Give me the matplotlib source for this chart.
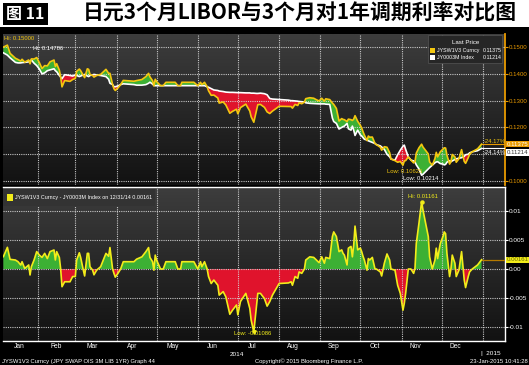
import matplotlib
matplotlib.use("Agg")
import matplotlib.pyplot as plt
import numpy as np
from matplotlib.colors import LinearSegmentedColormap
from matplotlib.patches import Rectangle

plt.rcParams["font.family"] = ["Liberation Sans Narrow", "Liberation Sans", "DejaVu Sans"]

# trading days, counted from 2014-01-01
DAYS = [
    5, 8, 10, 14, 16, 18, 19, 21, 24, 25, 26, 28,
    30, 32, 34, 36, 38, 40, 43, 44, 45, 47, 48, 49,
    51, 55, 57, 59, 60, 62, 63, 65, 66, 68, 69, 70,
    72, 73, 75, 78, 80, 82, 84, 85, 87, 88, 89, 91,
    93, 95, 103, 105, 109, 112, 114, 115, 117, 118, 119, 120,
    123, 125, 127, 134, 136, 138, 139, 148, 151, 153, 154, 156,
    158, 159, 161, 163, 166, 167, 170, 172, 175, 177, 180, 181,
    183, 187, 190, 191, 193, 195, 196, 198, 201, 203, 205, 207,
    210, 212, 219, 221, 222, 224, 226, 227, 229, 231, 232, 235,
    238, 240, 242, 244, 246, 247, 250, 252, 253, 255, 257, 259,
    260, 261, 263, 264, 266, 267, 268, 269, 271, 273, 274, 275,
    276, 278, 279, 280, 282, 284, 285, 288, 289, 291, 293, 295,
    296, 299, 301, 303, 305, 306, 307, 309, 311, 313, 314, 315,
    317, 319, 320, 322, 324, 325, 327, 329, 330, 331, 333, 335,
    336, 337, 338, 340, 341, 342, 344, 345, 347, 349, 351, 352,
    354, 355, 357, 361, 362, 364,
]

# JYSW1V3 Curncy - JY0003M Index
SPREAD = [
    0.00214, 0.00374, 0.00167, 0.00155, 0.00126, 0.00069, 0.00126, 0.0001, 0.0007, -0.00103, 0.0004, 0.00155,
    0.0030, 0.0024, 0.0020, 0.0027, 0.0018, 0.0030, 0.00328, 0.00155, 0.0030, 0.0020, 0.0, -0.00305,
    -0.0022, -0.0022, -0.0013, -0.0013, 0.00155, 0.0028, 0.0020, -0.0002, -0.0012, 0.0027, 0.0027, 0.0004,
    -0.0002, -0.0010, -0.0002, 0.0004, 0.00155, 0.0027, 0.0022, 0.0037, 0.0, -0.00075, -0.0014, -0.00075,
    0.0, 0.00126, 0.00126, 0.0017, 0.0021, 0.0030, 0.0037, 0.0020, 0.00126, -0.0002, 0.0024, 0.00155,
    0.0, 0.0, 0.00126, 0.00126, 0.0, 0.0, 0.00126, 0.00126, 0.0, 0.00126, 0.0004, 0.00126,
    0.0, -0.0013, -0.0025, -0.0019, -0.0028, -0.0045, -0.0039, -0.0048, -0.0078, -0.0071, -0.0062, -0.0079,
    -0.0056, -0.0042, -0.0068, -0.0088, -0.01086, -0.0065, -0.0042, -0.0042, -0.0051, -0.0064, -0.0056, -0.0045,
    -0.0033, -0.0025, -0.0024, -0.0022, -0.0028, -0.0013, -0.0016, -0.0005, -0.00075, 0.0, 0.00155, 0.0021,
    0.0020, 0.00155, 0.0011, 0.0021, 0.0010, 0.0020, 0.0018, 0.0056, 0.0064, 0.0056, 0.0030, 0.0033,
    0.0027, 0.0024, 0.0007, 0.0036, 0.0039, 0.0021, 0.0041, 0.0074, 0.0033, 0.0036, 0.0030, 0.0022,
    0.00155, -0.0002, 0.0018, 0.00155, 0.0020, 0.0, 0.0, -0.0005, -0.0012, 0.0010, 0.0026, 0.00155,
    0.0, -0.0002, -0.0028, -0.0042, -0.0071, -0.0059, -0.0042, 0.0, 0.0, -0.00075, 0.0001, 0.0044,
    0.0079, 0.01161, 0.0102, 0.0079, 0.0056, 0.0021, 0.0, 0.00155, 0.0036, 0.0018, 0.0044, 0.0056,
    0.0064, 0.0061, 0.0027, -0.0013, 0.0, 0.0024, 0.0010, -0.0013, -0.0002, 0.0030, -0.0019, -0.0032,
    -0.0013, -0.0005, 0.0, 0.0007, 0.0010, 0.00161,
]

# JY0003M Index (3M yen LIBOR)
LIBOR_3M = [
    0.14786, 0.1470, 0.1460, 0.1443, 0.1441, 0.1441, 0.1442, 0.1443, 0.1445, 0.1448, 0.1452, 0.1440,
    0.1431, 0.1418, 0.1400, 0.1404, 0.1412, 0.1415, 0.1419, 0.1412, 0.1408, 0.1394, 0.1388, 0.1382,
    0.1397, 0.1394, 0.1392, 0.1396, 0.1394, 0.1390, 0.1392, 0.1396, 0.1398, 0.1392, 0.1390, 0.1394,
    0.1396, 0.1398, 0.1396, 0.1394, 0.1392, 0.1390, 0.1380, 0.1365, 0.1360, 0.1352, 0.1352, 0.1355,
    0.1360, 0.1363, 0.1360, 0.1358, 0.1358, 0.1360, 0.1365, 0.1369, 0.1362, 0.1357, 0.1356, 0.1356,
    0.1356, 0.1356, 0.1356, 0.1356, 0.1356, 0.1356, 0.1356, 0.1356, 0.1356, 0.1356, 0.1356, 0.1356,
    0.1352, 0.1350, 0.1345, 0.1340, 0.1338, 0.1336, 0.1334, 0.1332, 0.1331, 0.1331, 0.1330, 0.1330,
    0.1330, 0.1329, 0.1329, 0.1328, 0.1328, 0.1327, 0.1327, 0.1328, 0.1326, 0.1322, 0.1308, 0.1306,
    0.1305, 0.1304, 0.1302, 0.1300, 0.1300, 0.1299, 0.1298, 0.1297, 0.1296, 0.1295, 0.1292, 0.1290,
    0.1289, 0.1288, 0.1288, 0.1288, 0.1288, 0.1287, 0.1286, 0.1235, 0.1222, 0.1215, 0.1194, 0.1200,
    0.1203, 0.1205, 0.1215, 0.1195, 0.1190, 0.1205, 0.1190, 0.1170, 0.1190, 0.1172, 0.1168, 0.1162,
    0.1156, 0.1153, 0.1150, 0.1148, 0.1144, 0.1140, 0.1136, 0.1131, 0.1127, 0.1118, 0.1100, 0.1090,
    0.1082, 0.1078, 0.1098, 0.1115, 0.1130, 0.1134, 0.1118, 0.1090, 0.1078, 0.1075, 0.1071, 0.1060,
    0.1045, 0.10214, 0.1025, 0.1035, 0.1045, 0.1050, 0.1059, 0.1068, 0.1071, 0.1072, 0.1065, 0.1063,
    0.1060, 0.1062, 0.1070, 0.1076, 0.1072, 0.1075, 0.1080, 0.1083, 0.1085, 0.1087, 0.1092, 0.1098,
    0.1100, 0.1105, 0.1109, 0.1113, 0.1116, 0.11214,
]

MONTH_STARTS = [31, 59, 90, 120, 151, 181, 212, 243, 273, 304, 334, 365]
MONTH_LABEL_DAYS = [17, 45, 72, 102, 132, 162, 192, 222, 253, 284, 314, 344]
MONTH_LABELS = ["Jan", "Feb", "Mar", "Apr", "May", "Jun", "Jul", "Aug", "Sep", "Oct", "Nov", "Dec"]
TOP_TICKS = [0.15, 0.14, 0.13, 0.12, 0.11, 0.10]
TOP_TICK_LABELS = ["0.1500", "0.1400", "0.1300", "0.1200", "0.1100", "0.1000"]
BOTTOM_TICKS = [0.01, 0.005, 0.0, -0.005, -0.01]
BOTTOM_TICK_LABELS = ["0.01", "0.005", "0.00", "-0.005", "-0.01"]

GREEN = "#3cb034"
RED = "#e0132c"
SWAP_COLOR = "#f3c70f"
SPREAD_COLOR = "#f2ec1a"
ORANGE = "#e99a00"
GRID = "#d8d8d8"

W, H = 529, 365


def box(x0, y0, x1, y1):
    return [x0 / W, 1 - y1 / H, (x1 - x0) / W, (y1 - y0) / H]


def main() -> None:
    days = np.array(DAYS, dtype=float)
    libor = np.array(LIBOR_3M)
    spread = np.array(SPREAD)
    swap = libor + spread

    fig = plt.figure(figsize=(W / 100, H / 100), dpi=100, facecolor="white")
    fig.patches.append(Rectangle((0, 0), 1, 1 - 27 / H, transform=fig.transFigure,
                                 facecolor="black", edgecolor="none", zorder=-10))

    # title
    fig.patches.append(Rectangle((3 / W, 1 - 25 / H), 45 / W, 22 / H, transform=fig.transFigure,
                                 facecolor="black", edgecolor="none"))
    fig.text(25 / W, 1 - 14 / H, "图 11", color="white", fontsize=11.5, fontweight="bold",
             ha="center", va="center", family=["Noto Sans CJK SC", "DejaVu Sans"])
    fig.text(83 / W, 1 - 13 / H, "日元3个月LIBOR与3个月对1年调期利率对比图", color="black",
             fontsize=15, fontweight="bold", ha="left", va="center",
             family=["Noto Sans CJK SC", "DejaVu Sans"])

    ax_top = fig.add_axes(box(3, 34, 505, 185))
    ax_bot = fig.add_axes(box(3, 187, 505, 341))
    shade = LinearSegmentedColormap.from_list("shade", ["#121212", "#3d3d3d"])
    for ax in (ax_top, ax_bot):
        ax.set_facecolor("black")
        ax.imshow(np.linspace(0, 1, 100).reshape(-1, 1), cmap=shade, extent=[0, 1, 0, 1],
                  transform=ax.transAxes, aspect="auto", origin="lower", zorder=0)
        ax.set_axisbelow(False)
        ax.set_xticks(MONTH_STARTS)
        ax.grid(True, which="major", color=GRID, lw=0.8, ls=(0, (1, 1)), alpha=0.9)
        for side in ("left", "top", "bottom", "right"):
            ax.spines[side].set_visible(False)

    # top panel: the two rates
    ax_top.fill_between(days, libor, swap, where=swap >= libor, interpolate=True,
                        color=GREEN, lw=0, zorder=2)
    ax_top.fill_between(days, libor, swap, where=swap < libor, interpolate=True,
                        color=RED, lw=0, zorder=2)
    ax_top.plot(days, libor, color="white", lw=1.2, zorder=3)
    ax_top.plot(days, swap, color=SWAP_COLOR, lw=1.2, zorder=4)
    ax_top.plot([days[-1], 400], [swap[-1], swap[-1]], color=ORANGE, lw=0.8, zorder=3)
    ax_top.plot([days[-1], 400], [libor[-1], libor[-1]], color="white", lw=0.8, zorder=3)
    ax_top.set_xlim(4.7, 381.6)
    ax_top.set_ylim(0.0985, 0.1549)
    ax_top.set_yticks(TOP_TICKS)
    ax_top.set_yticklabels(TOP_TICK_LABELS)
    ax_top.yaxis.tick_right()
    ax_top.tick_params(axis="y", colors=ORANGE, labelsize=4.4, length=2, pad=0.5)
    ax_top.tick_params(axis="x", length=0, labelbottom=False)
    ax_top.spines["right"].set_visible(True)
    ax_top.spines["right"].set_color(ORANGE)
    ax_top.spines["right"].set_linewidth(1.3)

    ax_top.text(5.5, 0.1534, "Hi: 0.15000", color=SWAP_COLOR, fontsize=4.2, va="center", zorder=6)
    ax_top.text(27, 0.1496, "Hi: 0.14786", color="white", fontsize=4.2, va="center", zorder=6)
    ax_top.text(293, 0.1036, "Low: 0.10625", color=SWAP_COLOR, fontsize=4.2, va="center", zorder=6)
    ax_top.text(305, 0.1008, "Low: 0.10214", color="white", fontsize=4.2, va="center", zorder=6)
    ax_top.text(365.5, 0.1148, "-24.17%", color=SWAP_COLOR, fontsize=4.2, va="center", zorder=6)
    ax_top.text(365.5, 0.1108, "-24.14%", color="white", fontsize=4.2, va="center", zorder=6)
    ax_top.annotate("0.11375", xy=(1.0, 0.11375), xycoords=("axes fraction", "data"),
                    xytext=(1.5, 0), textcoords="offset points", fontsize=4.4, color="white",
                    va="center", ha="left", annotation_clip=False, zorder=7,
                    bbox=dict(boxstyle="square,pad=0.1", fc=ORANGE, ec="none"))
    ax_top.annotate("0.11214", xy=(1.0, 0.1106), xycoords=("axes fraction", "data"),
                    xytext=(1.5, 0), textcoords="offset points", fontsize=4.4, color="#333333",
                    va="center", ha="left", annotation_clip=False, zorder=6,
                    bbox=dict(boxstyle="square,pad=0.1", fc="white", ec="none"))

    # legend, top panel
    tr = ax_top.transAxes
    ax_top.add_patch(Rectangle((0.846, 0.808), 0.149, 0.185, transform=tr, facecolor="#262626",
                               edgecolor="#555555", lw=0.5, zorder=5))
    ax_top.text(0.921, 0.945, "Last Price", transform=tr, color="white", fontsize=4.4,
                ha="center", va="center", zorder=6)
    for row_y, colour, name, value in [
        (0.890, SWAP_COLOR, "JYSW1V3 Curncy", "0.11375"),
        (0.843, "white", "JY0003M Index", "0.11214"),
    ]:
        ax_top.add_patch(Rectangle((0.851, row_y - 0.017), 0.010, 0.034, transform=tr,
                                   facecolor=colour, edgecolor="none", zorder=6))
        ax_top.text(0.864, row_y, name, transform=tr, color="white", fontsize=3.8,
                    va="center", zorder=6)
        ax_top.text(0.993, row_y, value, transform=tr, color="white", fontsize=3.8,
                    va="center", ha="right", zorder=6)

    # bottom panel: the spread
    ax_bot.fill_between(days, spread, 0, where=spread >= 0, interpolate=True,
                        color=GREEN, lw=0, zorder=2)
    ax_bot.fill_between(days, spread, 0, where=spread < 0, interpolate=True,
                        color=RED, lw=0, zorder=2)
    ax_bot.plot(days, spread, color=SPREAD_COLOR, lw=1.2, zorder=4)
    ax_bot.plot([days[-1], 400], [spread[-1], spread[-1]], color="#b57a00", lw=0.9, zorder=3)
    hi = int(np.argmax(spread))
    lo = int(np.argmin(spread))
    ax_bot.plot(days[hi], spread[hi], "o", color=SPREAD_COLOR, ms=2.2, zorder=5)
    ax_bot.plot(days[lo], spread[lo], "v", color=SPREAD_COLOR, ms=2.5, zorder=5)
    ax_bot.text(309, 0.01247, "Hi: 0.01161", color=SPREAD_COLOR, fontsize=4.2, va="center", zorder=6)
    ax_bot.text(178, -0.0112, "Low: -0.01086", color=SPREAD_COLOR, fontsize=4.2, va="center", zorder=6)
    ax_bot.set_xlim(4.7, 381.6)
    ax_bot.set_ylim(-0.01241, 0.01414)
    ax_bot.set_yticks(BOTTOM_TICKS)
    ax_bot.set_yticklabels(BOTTOM_TICK_LABELS)
    ax_bot.yaxis.tick_right()
    ax_bot.tick_params(axis="y", colors="white", labelsize=4.6, length=2, pad=0.5)
    ax_bot.set_xticklabels([])
    ax_bot.set_xticks(MONTH_LABEL_DAYS, minor=True)
    ax_bot.set_xticklabels(MONTH_LABELS, minor=True)
    ax_bot.tick_params(axis="x", which="both", length=0, colors="white", labelsize=4.8, pad=1.5)
    for side in ("right", "top", "bottom"):
        ax_bot.spines[side].set_visible(True)
        ax_bot.spines[side].set_color("white")
        ax_bot.spines[side].set_linewidth(1.0)
    ax_bot.annotate("0.00161", xy=(1.0, spread[-1]), xycoords=("axes fraction", "data"),
                    xytext=(1.5, 0), textcoords="offset points", fontsize=4.4, color="#6b6b00",
                    va="center", ha="left", annotation_clip=False, zorder=7,
                    bbox=dict(boxstyle="square,pad=0.1", fc=SPREAD_COLOR, ec="none"))

    # legend, bottom panel
    tb = ax_bot.transAxes
    ax_bot.add_patch(Rectangle((0.0, 0.877), 0.303, 0.11, transform=tb, facecolor="#333333",
                               edgecolor="none", zorder=5))
    ax_bot.add_patch(Rectangle((0.008, 0.912), 0.011, 0.04, transform=tb, facecolor=SPREAD_COLOR,
                               edgecolor="none", zorder=6))
    ax_bot.text(0.023, 0.932, "JYSW1V3 Curncy - JY0003M Index on 12/31/14 0.00161", transform=tb,
                color="white", fontsize=3.9, va="center", zorder=6)

    # year labels and footer
    fig.text(237 / W, 1 - 355 / H, "2014", color="white", fontsize=4.6, ha="center", va="center")
    fig.text(481 / W, 1 - 353 / H, "|  2015", color="white", fontsize=4.6, ha="left", va="center")
    fig.text(2 / W, 1 - 361.5 / H, "JYSW1V3 Curncy (JPY SWAP OIS 3M LIB 1YR) Graph 44", color="white",
             fontsize=4.2, ha="left", va="center")
    fig.text(255 / W, 1 - 361.5 / H, "Copyright© 2015 Bloomberg Finance L.P.", color="white",
             fontsize=4.2, ha="left", va="center")
    fig.text(528 / W, 1 - 361.5 / H, "23-Jan-2015 10:41:28", color="white",
             fontsize=4.2, ha="right", va="center")

    fig.savefig("out.png", dpi=100, facecolor=fig.get_facecolor())
    plt.close(fig)


if __name__ == "__main__":
    main()
